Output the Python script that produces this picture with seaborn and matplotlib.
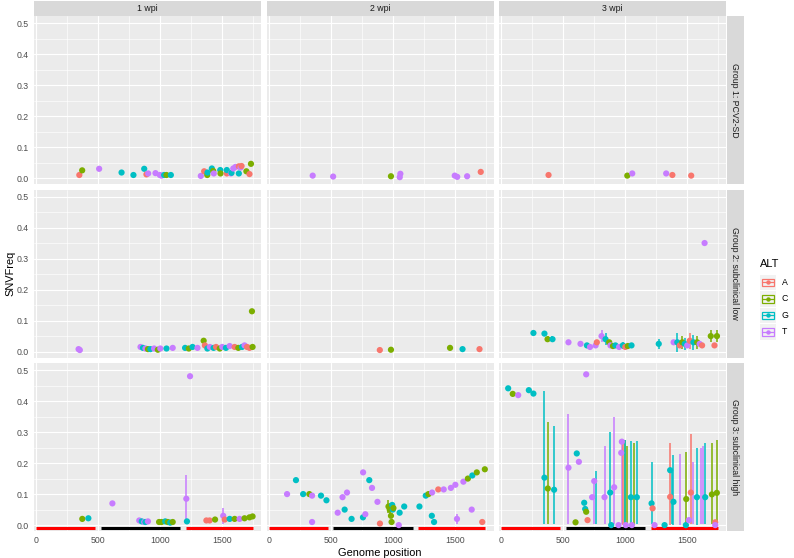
import matplotlib
matplotlib.use("Agg")
import matplotlib.pyplot as plt
from matplotlib.ticker import MultipleLocator, FixedLocator
from matplotlib.patches import Rectangle
import pandas as pd
import seaborn as sns

sns.set_theme(style="darkgrid", rc={"axes.facecolor": "#EBEBEB", "grid.color": "white"})
plt.rcParams['font.family'] = ['Liberation Sans', 'DejaVu Sans']

# ---------------- data ----------------
wpi_labels = ["1 wpi", "2 wpi", "3 wpi"]
group_labels = ["Group 1: PCV2-SD", "Group 2: subclinical low", "Group 3: subclinical high"]
alt_levels = ["A", "C", "G", "T"]
x_ticks = [0, 500, 1000, 1500]
y_ticks = [0.0, 0.1, 0.2, 0.3, 0.4, 0.5]

# genome annotation segments (bottom row)
orf_start = [0, 520, 1205]
orf_end = [475, 1160, 1745]

# Group 1, 1 wpi
g1_w1_pos = [346, 369, 506, 687, 783, 870, 888, 902, 961, 996, 1010, 1031, 1050, 1085, 1327, 1354, 1379, 1381,
             1416, 1427, 1432, 1484, 1486, 1537, 1537, 1570, 1575, 1589, 1607, 1634, 1634, 1648, 1656, 1695, 1720, 1732]
g1_w1_frq = [0.010, 0.025, 0.030, 0.018, 0.010, 0.030, 0.012, 0.015, 0.016, 0.010, 0.008, 0.010, 0.010, 0.010,
             0.007, 0.022, 0.010, 0.018, 0.031, 0.023, 0.015, 0.026, 0.015, 0.015, 0.026, 0.015, 0.017, 0.031,
             0.036, 0.038, 0.015, 0.034, 0.039, 0.022, 0.013, 0.046]
g1_w1_alt = list("ACTGGGATTTTGCGTACGGCTGCAGTGTTAGTACAC")

# Group 1, 2 wpi
g1_w2_pos = [353, 518, 985, 1056, 1061, 1500, 1520, 1600, 1710]
g1_w2_frq = [0.008, 0.005, 0.006, 0.003, 0.014, 0.008, 0.004, 0.006, 0.020]
g1_w2_alt = list("TTCTTTTTA")

# Group 1, 3 wpi
g1_w3_pos = [380, 1016, 1056, 1330, 1380, 1532]
g1_w3_frq = [0.010, 0.008, 0.015, 0.015, 0.010, 0.008]
g1_w3_alt = list("ACTTAA")

# Group 2, 1 wpi
g2_w1_pos = [340, 350, 840, 860, 880, 900, 920, 950, 980, 1000, 1050, 1100, 1200, 1230, 1260, 1300, 1350, 1360,
             1380, 1400, 1430, 1450, 1480, 1500, 1530, 1560, 1600, 1630, 1660, 1680, 1700, 1720, 1740, 1745]
g2_w1_frq = [0.008, 0.005, 0.015, 0.012, 0.010, 0.008, 0.008, 0.010, 0.006, 0.010, 0.010, 0.012, 0.012, 0.010,
             0.015, 0.012, 0.035, 0.020, 0.010, 0.015, 0.012, 0.015, 0.010, 0.015, 0.012, 0.018, 0.015, 0.012,
             0.015, 0.020, 0.015, 0.012, 0.130, 0.015]
g2_w1_alt = list("TTTGTCGTCTGTGCGTCAGTGACTGTACGTAACC")

# Group 2, 2 wpi
g2_w2_pos = [895, 985, 1462, 1563, 1700]
g2_w2_frq = [0.005, 0.006, 0.012, 0.008, 0.008]
g2_w2_alt = list("ACCGA")

# Group 2, 3 wpi
g2_w3_pos = [258, 347, 372, 412, 541, 638, 690, 715, 760, 770, 808, 840, 870, 880, 900, 920, 950, 980, 1000,
             1020, 1050, 1270, 1390, 1420, 1440, 1460, 1480, 1500, 1520, 1550, 1580, 1600, 1620, 1640, 1690,
             1720, 1740]
g2_w3_frq = [0.060, 0.058, 0.040, 0.040, 0.030, 0.025, 0.020, 0.015, 0.020, 0.030, 0.050, 0.040, 0.030, 0.020,
             0.018, 0.020, 0.015, 0.020, 0.015, 0.018, 0.020, 0.025, 0.030, 0.030, 0.020, 0.030, 0.025, 0.020,
             0.035, 0.030, 0.030, 0.025, 0.020, 0.350, 0.050, 0.020, 0.050]
g2_w3_alt = list("GGCGTTGTTATGCTCGTGACGGTGACGTAGCTATCAC")
g2_w3_eb_pos = [372, 412, 808, 840, 980, 1270, 1420, 1460, 1480, 1520, 1550, 1580, 1690, 1740]
g2_w3_eb_lo = [0.030, 0.030, 0.030, 0.020, 0.010, 0.010, 0.000, 0.010, 0.005, 0.010, 0.005, 0.010, 0.030, 0.030]
g2_w3_eb_hi = [0.050, 0.050, 0.070, 0.060, 0.030, 0.040, 0.060, 0.050, 0.045, 0.060, 0.055, 0.050, 0.070, 0.070]
g2_w3_eb_alt = list("CGTGGGGCGAGCCC")

# Group 3, 1 wpi
g3_w1_pos = [370, 419, 613, 830, 850, 870, 880, 900, 990, 1010, 1040, 1060, 1080, 1100, 1210, 1215, 1240, 1372,
             1398, 1442, 1508, 1520, 1560, 1600, 1640, 1680, 1720, 1745]
g3_w1_frq = [0.020, 0.022, 0.070, 0.015, 0.012, 0.010, 0.010, 0.012, 0.010, 0.010, 0.012, 0.010, 0.008, 0.010,
             0.085, 0.012, 0.480, 0.015, 0.015, 0.018, 0.030, 0.018, 0.020, 0.020, 0.020, 0.022, 0.025, 0.028]
g3_w1_alt = list("CGTTGTGTCCGCGCTGTAACTAGCTCCC")
g3_w1_eb_pos = [1210, 1508]
g3_w1_eb_lo = [0.015, 0.005]
g3_w1_eb_hi = [0.160, 0.055]
g3_w1_eb_alt = list("TT")

# Group 3, 2 wpi
g3_w2_pos = [146, 218, 276, 326, 348, 348, 420, 464, 555, 594, 611, 630, 667, 759, 760, 778, 810, 832, 876,
             896, 965, 975, 985, 990, 995, 1000, 1005, 1048, 1055, 1092, 1215, 1266, 1288, 1315, 1317, 1333,
             1367, 1411, 1469, 1505, 1518, 1570, 1606, 1637, 1642, 1678, 1722, 1743]
g3_w2_frq = [0.100, 0.145, 0.100, 0.100, 0.095, 0.010, 0.095, 0.080, 0.040, 0.090, 0.050, 0.105, 0.020, 0.025,
             0.170, 0.035, 0.145, 0.120, 0.075, 0.005, 0.060, 0.050, 0.030, 0.010, 0.065, 0.050, 0.055, 0.000,
             0.040, 0.060, 0.060, 0.095, 0.100, 0.030, 0.105, 0.010, 0.115, 0.115, 0.120, 0.130, 0.020, 0.140,
             0.150, 0.050, 0.160, 0.170, 0.010, 0.180]
g3_w2_alt = list("TGGCTTGGTTGTGGTTGTTACCCCGGCTGGGGCGTGATTTTTCTGCAC")
g3_w2_eb_pos = [965, 975, 990, 1518]
g3_w2_eb_lo = [0.040, 0.030, 0.000, 0.005]
g3_w2_eb_hi = [0.080, 0.070, 0.020, 0.035]
g3_w2_eb_alt = list("CCCT")

# Group 3, 3 wpi
g3_w3_pos = [54, 91, 135, 221, 258, 347, 374, 425, 541, 598, 608, 625, 668, 676, 684, 684, 695, 732, 749, 832,
             878, 886, 910, 945, 967, 972, 1004, 1045, 1053, 1093, 1212, 1220, 1236, 1317, 1362, 1362, 1389,
             1489, 1492, 1513, 1529, 1578, 1645, 1699, 1726, 1726, 1739]
g3_w3_frq = [0.441, 0.423, 0.419, 0.435, 0.424, 0.153, 0.118, 0.114, 0.185, 0.009, 0.231, 0.204, 0.072, 0.052,
             0.043, 0.486, 0.016, 0.090, 0.142, 0.090, 0.105, 0.000, 0.122, 0.000, 0.233, 0.269, 0.000, 0.090,
             0.000, 0.090, 0.070, 0.054, 0.000, 0.000, 0.091, 0.177, 0.075, 0.000, 0.084, 0.016, 0.105, 0.090,
             0.090, 0.099, 0.009, 0.000, 0.104]
g3_w3_alt = list("GCTGGGCGTCGTGGCTATTTGGTTTTTGTGGATGAGGGCTAGGCATC")
g3_w3_eb_pos = [347, 374, 425, 541, 749, 760, 832, 878, 910, 972, 985, 995, 1000, 1010, 1045, 1070, 1093, 1212,
                1362, 1375, 1389, 1440, 1492, 1529, 1550, 1578, 1610, 1630, 1645, 1699, 1739]
g3_w3_eb_lo = [0.005, 0.005, 0.005, 0.005, 0.005, 0.005, 0.005, 0.005, 0.005, 0.005, 0.000, 0.000, 0.000, 0.000,
               0.005, 0.000, 0.005, 0.005, 0.000, 0.005, 0.000, 0.000, 0.005, 0.005, 0.005, 0.000, 0.005, 0.005,
               0.005, 0.005, 0.005]
g3_w3_eb_hi = [0.432, 0.333, 0.320, 0.357, 0.150, 0.175, 0.255, 0.300, 0.350, 0.275, 0.270, 0.275, 0.275, 0.255,
               0.270, 0.265, 0.270, 0.205, 0.265, 0.170, 0.225, 0.230, 0.235, 0.295, 0.205, 0.250, 0.250, 0.255,
               0.265, 0.265, 0.275]
g3_w3_eb_alt = list("GCGTTGTGTTACGCGCGGAGGTCATGTTGCC")

# ---------------- style ----------------
palette = {"A": "#F8766D", "C": "#7CAE00", "G": "#00BFC4", "T": "#C77CFF"}
orf_colors = ["#FF0000", "#000000", "#FF0000"]

panels = {
    (0, 0): (g1_w1_pos, g1_w1_frq, g1_w1_alt, None),
    (0, 1): (g1_w2_pos, g1_w2_frq, g1_w2_alt, None),
    (0, 2): (g1_w3_pos, g1_w3_frq, g1_w3_alt, None),
    (1, 0): (g2_w1_pos, g2_w1_frq, g2_w1_alt, None),
    (1, 1): (g2_w2_pos, g2_w2_frq, g2_w2_alt, None),
    (1, 2): (g2_w3_pos, g2_w3_frq, g2_w3_alt, (g2_w3_eb_pos, g2_w3_eb_lo, g2_w3_eb_hi, g2_w3_eb_alt)),
    (2, 0): (g3_w1_pos, g3_w1_frq, g3_w1_alt, (g3_w1_eb_pos, g3_w1_eb_lo, g3_w1_eb_hi, g3_w1_eb_alt)),
    (2, 1): (g3_w2_pos, g3_w2_frq, g3_w2_alt, (g3_w2_eb_pos, g3_w2_eb_lo, g3_w2_eb_hi, g3_w2_eb_alt)),
    (2, 2): (g3_w3_pos, g3_w3_frq, g3_w3_alt, (g3_w3_eb_pos, g3_w3_eb_lo, g3_w3_eb_hi, g3_w3_eb_alt)),
}

W, H = 794, 558
fig = plt.figure(figsize=(W / 100, H / 100), dpi=100)
fig.patch.set_facecolor("white")


def px_axes(x0, y0, w, h):
    return fig.add_axes([x0 / W, 1 - (y0 + h) / H, w / W, h / H])


col_left = [34, 266.5, 499]
pw = 227
row_top = [16, 189.5, 363]
ph = 168
strip_h = 15
strip_w = 17
XLIM = (-20, 1813)
YLIM = (-0.019, 0.5226)

tick_col = "#4D4D4D"
for (r, c), (pos, frq, alt, eb) in panels.items():
    ax = px_axes(col_left[c], row_top[r], pw, ph)
    ax.set_facecolor("#EBEBEB")
    for s in ax.spines.values():
        s.set_visible(False)
    ax.set_xlim(*XLIM)
    ax.set_ylim(*YLIM)
    ax.xaxis.set_major_locator(FixedLocator(x_ticks))
    ax.yaxis.set_major_locator(FixedLocator(y_ticks))
    ax.xaxis.set_minor_locator(MultipleLocator(250))
    ax.yaxis.set_minor_locator(FixedLocator([0.05, 0.15, 0.25, 0.35, 0.45]))
    ax.grid(which="major", color="white", lw=0.85)
    ax.grid(which="minor", color="white", lw=0.45)
    ax.set_axisbelow(True)
    ax.tick_params(which="minor", length=0)
    ax.tick_params(which="major", length=2.2, width=0.6, color="#333333", labelsize=6.3,
                   labelcolor=tick_col, pad=1.5)
    if c == 0:
        ax.set_yticklabels([f"{v:.1f}" for v in y_ticks])
    else:
        ax.tick_params(axis="y", left=False, labelleft=False)
    if r == 2:
        ax.set_xticklabels([str(v) for v in x_ticks])
        ax.hlines([-0.01] * len(orf_start), orf_start, orf_end, colors=orf_colors, lw=2.2, zorder=2)
    else:
        ax.tick_params(axis="x", bottom=False, labelbottom=False)
    if eb is not None:
        ax.vlines(eb[0], eb[1], eb[2], colors=[palette[a] for a in eb[3]], lw=1.1, zorder=3)
    df = pd.DataFrame({"pos": pos, "SNVFreq": frq, "ALT": alt})
    sns.scatterplot(data=df, x="pos", y="SNVFreq", hue="ALT", hue_order=alt_levels, palette=palette,
                    s=20, linewidth=0, legend=False, ax=ax, zorder=4)
    ax.set_xlabel("")
    ax.set_ylabel("")

# strips
for c in range(3):
    sa = px_axes(col_left[c], row_top[0] - strip_h, pw, strip_h - 0.5)
    sa.set_facecolor("#D9D9D9")
    sa.set_xticks([]); sa.set_yticks([]); sa.grid(False)
    for s in sa.spines.values():
        s.set_visible(False)
    sa.text(0.5, 0.5, wpi_labels[c], ha="center", va="center", fontsize=6.3, color="#1A1A1A",
            transform=sa.transAxes)
for r in range(3):
    sa = px_axes(col_left[2] + pw + 0.5, row_top[r], strip_w, ph)
    sa.set_facecolor("#D9D9D9")
    sa.set_xticks([]); sa.set_yticks([]); sa.grid(False)
    for s in sa.spines.values():
        s.set_visible(False)
    sa.text(0.5, 0.5, group_labels[r], ha="center", va="center", rotation=-90, fontsize=6.3,
            color="#1A1A1A", transform=sa.transAxes)

# axis titles
mid_x = (col_left[0] + col_left[2] + pw) / 2
fig.text(mid_x / W, 1 - 553 / H, "Genome position", ha="center", va="center", fontsize=7.9, color="black")
mid_y = (row_top[0] + row_top[2] + ph) / 2
fig.text(10 / W, 1 - mid_y / H, "SNVFreq", ha="center", va="center", rotation=90, fontsize=7.9, color="black")

# legend
fig.text(760 / W, 1 - 264 / H, "ALT", ha="left", va="center", fontsize=7.9, color="black")
la = px_axes(758, 274, 36, 66)
la.set_xlim(0, 36)
la.set_ylim(66, 0)
la.axis("off")
for i, a in enumerate(alt_levels):
    y0 = i * 16.5
    la.add_patch(Rectangle((2, y0 + 0.5), 16, 15.5, facecolor="#F2F2F2", edgecolor="none"))
    col = palette[a]
    la.add_patch(Rectangle((4, y0 + 4.5), 12, 7.5, facecolor="none", edgecolor=col, lw=0.9))
    la.plot([4, 16], [y0 + 8.25, y0 + 8.25], color=col, lw=0.9)
    la.plot([10], [y0 + 8.25], "o", color=col, ms=3.2, mec="none")
    la.text(24, y0 + 8.25, a, ha="left", va="center", fontsize=6.3, color="black")

fig.savefig("out.png", dpi=100)
